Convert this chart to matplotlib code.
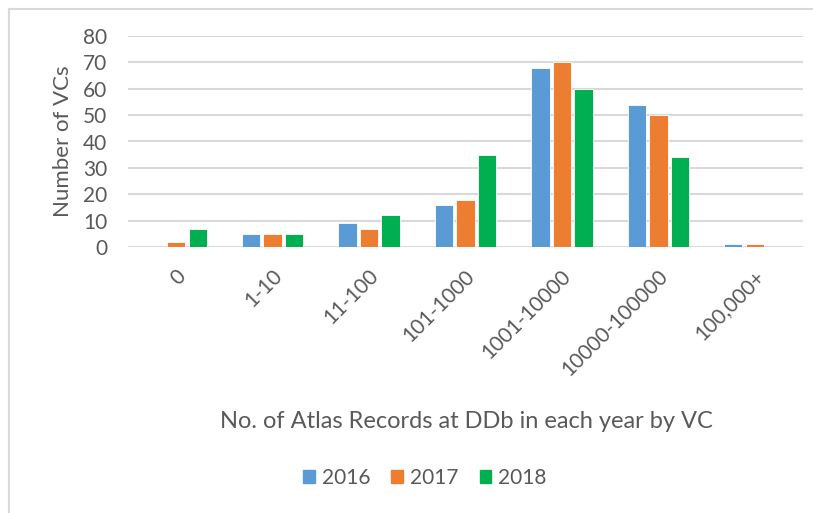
import matplotlib
matplotlib.use("Agg")
import matplotlib.pyplot as plt
import numpy as np
from matplotlib.lines import Line2D
from matplotlib.transforms import ScaledTranslation

categories = ["0", "1-10", "11-100", "101-1000", "1001-10000", "10000-100000", "100,000+"]
years = ["2016", "2017", "2018"]
v2016 = [0, 5, 9, 16, 68, 54, 1]
v2017 = [2, 5, 7, 18, 70, 50, 1]
v2018 = [7, 5, 12, 35, 60, 34, 0]
colors = ["#5B9BD5", "#ED7D31", "#00B050"]

plt.rcParams['font.family'] = ['Lato', 'DejaVu Sans']
txt = "#595959"

fig = plt.figure(figsize=(8.13, 5.13), dpi=100)
ax = fig.add_axes([128/813, 1-247/513, (803-128)/813, (247-36)/513])

x = np.arange(len(categories))
w = 0.19
pitch = 0.223
for i, (vals, c, lab) in enumerate(zip([v2016, v2017, v2018], colors, years)):
    ax.bar(x + (i-1)*pitch, vals, width=w, color=c, label=lab, zorder=3,
           edgecolor="white", linewidth=0.6)

ax.set_xlim(-0.5, len(categories)-0.5)
ax.set_ylim(0, 80)
ax.set_yticks(range(0, 81, 10))
ax.grid(axis='y', color="#D9D9D9", linewidth=1.5, zorder=0)
ax.set_axisbelow(True)
for s in ax.spines.values():
    s.set_visible(False)
ax.tick_params(axis='both', length=0, labelsize=15, colors=txt)
ax.tick_params(axis='y', pad=15)
ax.set_xticks(x)
ax.set_xticklabels(categories, rotation=45, ha='right', rotation_mode='anchor')
off = ScaledTranslation(-1/100, -14/100, fig.dpi_scale_trans)
for t in ax.get_xticklabels():
    t.set_transform(t.get_transform() + off)

ax.set_ylabel("Number of VCs", fontsize=16, color=txt, labelpad=7)
fig.text(466/813, 1-422/513, "No. of Atlas Records at DDb in each year by VC",
         ha='center', va='center', fontsize=17, color=txt)

handles = [plt.Rectangle((0, 0), 1, 1, color=c) for c in colors]
fig.legend(handles, years, loc='center', bbox_to_anchor=(425/813, 1-478/513),
           ncol=3, frameon=False, fontsize=15, labelcolor=txt,
           handlelength=0.55, handleheight=0.55, handletextpad=0.35, columnspacing=1.0)

fig.add_artist(Line2D([8.5/813, 8.5/813], [0, 1-8.5/513], transform=fig.transFigure,
                      color="#D9D9D9", linewidth=1.5))
fig.add_artist(Line2D([8.5/813, 1], [1-8.5/513, 1-8.5/513], transform=fig.transFigure,
                      color="#D9D9D9", linewidth=1.5))

fig.savefig("out.png", dpi=100)
